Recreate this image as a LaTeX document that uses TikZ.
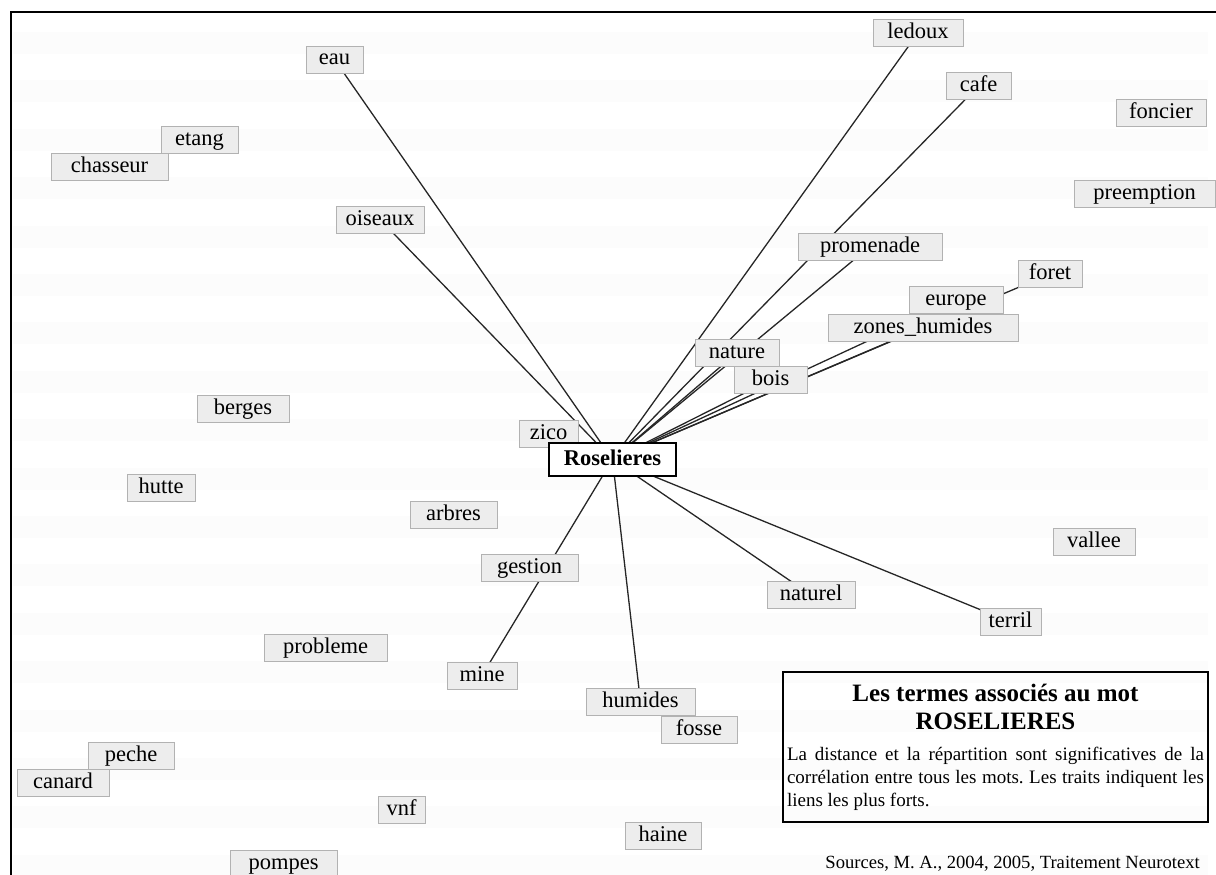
\documentclass[tikz,border=0pt]{standalone}
\usepackage{fontspec}
\setmainfont{Liberation Serif}
\pgfdeclarelayer{back}
\pgfsetlayers{back,main}
\tikzset{
  term/.style={fill=gray!14, draw=gray!60, line width=0.9pt, minimum height=27pt,
    inner sep=0pt, text height=15pt, text depth=4pt, font=\fontsize{22.5}{27}\selectfont},
  hub/.style={fill=white, draw=black, line width=1.8pt, minimum height=33pt,
    inner sep=0pt, text height=15pt, text depth=4pt, font=\fontsize{22.5}{27}\selectfont\bfseries},
  link/.style={draw=black!85, line width=1.3pt},
}

\begin{document}
\begin{tikzpicture}[x=1pt, y=-1pt]
                \useasboundingbox (0,0) rectangle (1216,875);
                % frame
                \draw[line width=1.8pt] (11,875) -- (11,12) -- (1216,12);
                % words
                \node(eau) at(334.5, 59.5) [term, minimum width=57pt] {eau};
                \node(etang) at(199.5, 140) [term, minimum width=77pt] {etang};
                \node(chasseur) at(109.5, 166.5) [term, minimum width=117pt] {chasseur};
                \node(ledoux) at(918, 33) [term, minimum width=90pt] {ledoux};
                \node(cafe) at(978.5, 86) [term, minimum width=65pt] {cafe};
                \node(foncier) at(1161, 112.5) [term, minimum width=90pt] {foncier};
                \node(preemption) at(1144.5, 193.5) [term, minimum width=141pt] {preemption};
                \node(oiseaux) at(380, 219.5) [term, minimum width=88pt] {oiseaux};
                \node(promenade) at(870, 246.5) [term, minimum width=144pt] {promenade};
                \node(foret) at(1050, 274) [term, minimum width=64pt] {foret};
                \node(europe) at(956, 300) [term, minimum width=94pt] {europe};
                \node(zones) at(923, 327.5) [term, minimum width=190pt] {zones\_humides};
                \node(nature) at(737, 352.5) [term, minimum width=84pt] {nature};
                \node(bois) at(770.5, 380) [term, minimum width=73pt] {bois};
                \node(berges) at(243, 408.5) [term, minimum width=92pt] {berges};
                \node(zico) at(548.5, 433.5) [term, minimum width=59pt] {zico};
                \node(ros) at(612.5, 459.5) [hub, minimum width=127pt] {Roselieres};
                \node(hutte) at(161, 487.5) [term, minimum width=68pt] {hutte};
                \node(arbres) at(453.5, 514.5) [term, minimum width=87pt] {arbres};
                \node(gestion) at(529.5, 568) [term, minimum width=97pt] {gestion};
                \node(vallee) at(1094, 541.5) [term, minimum width=82pt] {vallee};
                \node(naturel) at(811, 595) [term, minimum width=88pt] {naturel};
                \node(terril) at(1010.5, 622) [term, minimum width=61pt] {terril};
                \node(probleme) at(325.5, 647.5) [term, minimum width=123pt] {probleme};
                \node(mine) at(482, 675.5) [term, minimum width=70pt] {mine};
                \node(humides) at(640.5, 702) [term, minimum width=109pt] {humides};
                \node(fosse) at(699, 729.5) [term, minimum width=76pt] {fosse};
                \node(peche) at(131, 755.5) [term, minimum width=86pt] {peche};
                \node(canard) at(63, 783) [term, minimum width=92pt] {canard};
                \node(vnf) at(401.5, 809.5) [term, minimum width=47pt] {vnf};
                \node(haine) at(663, 835.5) [term, minimum width=76pt] {haine};
                \node(pompes) at(283.5, 863.5) [term, minimum width=107pt] {pompes};
                % legend
                \node(legend) at(995.5, 747) [draw, line width=1.6pt, minimum width=425pt, minimum height=150pt,
                    text width=417pt, inner xsep=4pt, align=justify]
                    {{\centering\bfseries\fontsize{25}{28}\selectfont Les termes associés au mot\\ROSELIERES\par}
                     \vspace{8pt}
                     {\fontsize{19}{23}\selectfont\frenchspacing\hyphenpenalty=10000 La distance et la répartition sont significatives de la\linebreak
                     corrélation entre tous les mots. Les traits indiquent les\linebreak liens les plus forts.\par}};
                \node(sources) at(1200, 868) [anchor=base east, inner sep=0pt, font=\fontsize{18.6}{22}\selectfont]
                    {Sources, M. A., 2004, 2005, Traitement Neurotext};
                \begin{pgfonlayer}{back}
                    % faint stripes
                    \foreach \k in {0,...,17}
                        \fill[gray!2.5] (13, 32+48.4*\k) rectangle (1208, 54+48.4*\k);
                    % strongest links, centre to centre
                    \draw[link] (ros.center) -- (eau.center);
                    \draw[link] (ros.center) -- (oiseaux.center);
                    \draw[link] (ros.center) -- (ledoux.center);
                    \draw[link] (ros.center) -- (cafe.center);
                    \draw[link] (ros.center) -- (promenade.center);
                    \draw[link] (ros.center) -- (nature.center);
                    \draw[link] (ros.center) -- (bois.center);
                    \draw[link] (ros.center) -- (zones.center);
                    \draw[link] (ros.center) -- (europe.center);
                    \draw[link] (ros.center) -- (foret.center);
                    \draw[link] (ros.center) -- (mine.center);
                    \draw[link] (ros.center) -- (humides.center);
                    \draw[link] (ros.center) -- (naturel.center);
                    \draw[link] (ros.center) -- (terril.center);
                \end{pgfonlayer}
            \end{tikzpicture}
\end{document}
